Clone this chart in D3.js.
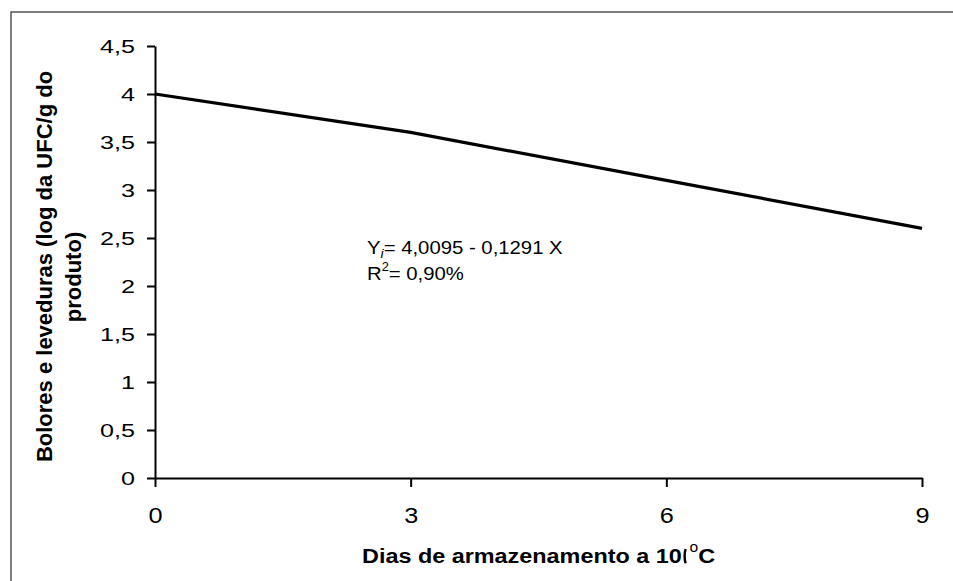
<!DOCTYPE html>
<html>
<head>
<meta charset="utf-8">
<script src="https://cdn.jsdelivr.net/npm/d3@7"></script>
<style>
  html, body { margin: 0; padding: 0; background: #fff; }
  svg { display: block; font-family: Arial, "Liberation Sans", sans-serif; }
</style>
</head>
<body>
<svg id="chart" width="953" height="581"></svg>
<script>
// Storage days and yeast/mould counts (log CFU/g)
const days = [0, 3, 6, 9];
const counts = [4.0, 3.6, 3.1, 2.6];
const xTicks = [0, 3, 6, 9];
const yTicks = [0, 0.5, 1, 1.5, 2, 2.5, 3, 3.5, 4, 4.5];
const yTitleLines = ["Bolores e leveduras (log da UFC/g do", "produto)"];
const xTitle = "Dias de armazenamento a 10";
const equation = "= 4,0095 - 0,1291 X";
const r2Text = "= 0,90%";

const FONT = "Arial, 'Liberation Sans', sans-serif";
const svg = d3.select("#chart");
const W = 953, H = 581;
const plot = { left: 155, right: 922, top: 46, bottom: 478 };

const fmt = d => String(d).replace(".", ",");

// outer frame (runs off the right and bottom edges)
svg.append("rect")
  .attr("x", 11).attr("y", 12)
  .attr("width", W + 20).attr("height", H + 20)
  .attr("fill", "none").attr("stroke", "#555").attr("stroke-width", 1.5);

const x = d3.scaleLinear().domain([0, 9]).range([plot.left, plot.right]);
const y = d3.scaleLinear().domain([0, 4.5]).range([plot.bottom, plot.top]);

// y axis
const yAxis = svg.append("g")
  .attr("transform", `translate(${plot.left},0)`)
  .call(d3.axisLeft(y).tickValues(yTicks).tickFormat(fmt).tickSize(8).tickSizeOuter(0));
yAxis.select(".domain").attr("stroke", "#000").attr("stroke-width", 2);
yAxis.selectAll(".tick line").attr("stroke", "#000").attr("stroke-width", 2);
yAxis.selectAll(".tick text")
  .attr("x", 0).attr("dy", "0.35em")
  .attr("transform", "translate(-20,0) scale(1.4,1)")
  .attr("font-size", 18).attr("fill", "#000").attr("font-family", FONT);

// x axis
const xAxis = svg.append("g")
  .attr("transform", `translate(0,${plot.bottom})`)
  .call(d3.axisBottom(x).tickValues(xTicks).tickFormat(fmt).tickSize(9).tickSizeOuter(0));
xAxis.select(".domain").attr("stroke", "#000").attr("stroke-width", 2);
xAxis.selectAll(".tick line").attr("stroke", "#000").attr("stroke-width", 2);
xAxis.selectAll(".tick text")
  .attr("y", 0).attr("dy", 0)
  .attr("transform", "translate(0,45) scale(1.15,1)")
  .attr("font-size", 22).attr("fill", "#000").attr("font-family", FONT);

// fitted line
const line = d3.line().x((d, i) => x(days[i])).y(d => y(d));
svg.append("path")
  .datum(counts)
  .attr("d", line)
  .attr("fill", "none")
  .attr("stroke", "#000")
  .attr("stroke-width", 3.2)
  .attr("stroke-linejoin", "round");

// regression equation
const eq = svg.append("text")
  .attr("transform", "translate(367,254) scale(1.07,1)")
  .attr("font-size", 19).attr("fill", "#000");
eq.append("tspan").text("Y");
eq.append("tspan").attr("font-style", "italic").attr("font-size", 13).attr("dy", 4).text("i");
eq.append("tspan").attr("dy", -4).text(equation);

const r2 = svg.append("text")
  .attr("transform", "translate(367,280) scale(1.07,1)")
  .attr("font-size", 19).attr("fill", "#000");
r2.append("tspan").text("R");
r2.append("tspan").attr("font-size", 12).attr("dy", -9).text("2");
r2.append("tspan").attr("dy", 9).text(r2Text);

// y axis title (two lines, rotated)
const yTitlePos = [{ bx: 51.5, cy: 266.5 }, { bx: 80.5, cy: 277 }];
svg.append("g").selectAll("text")
  .data(yTitleLines)
  .join("text")
  .attr("transform", (d, i) => `translate(${yTitlePos[i].bx},${yTitlePos[i].cy}) rotate(-90)`)
  .attr("text-anchor", "middle")
  .attr("font-size", 22).attr("font-weight", "bold").attr("fill", "#000")
  .text(d => d);

// x axis title, slightly widened to span 362..682 before the degree sign
const xt = svg.append("g");
const main = xt.append("text")
  .attr("x", 0).attr("y", 0)
  .attr("font-size", 21).attr("font-weight", "bold").attr("fill", "#000")
  .text(xTitle);
const L = main.node().getComputedTextLength();
const sx = 320 / L;
xt.attr("transform", `translate(362,563) scale(${sx},1)`);
// sliver of a cut-off digit after the "10"
xt.append("path")
  .attr("d", `M${L + 3.6 / sx},-14 Q${L + 1.6 / sx},-7 ${L + 3.6 / sx},0.3`)
  .attr("fill", "none").attr("stroke", "#000").attr("stroke-width", 2.2);
// degree sign and unit
const unit = xt.append("text")
  .attr("x", L + 7.5 / sx).attr("y", 0)
  .attr("fill", "#000");
unit.append("tspan").attr("font-size", 14).attr("dy", -11).text("o");
unit.append("tspan").attr("font-size", 21).attr("font-weight", "bold").attr("dy", 11).text("C");
</script>
</body>
</html>
